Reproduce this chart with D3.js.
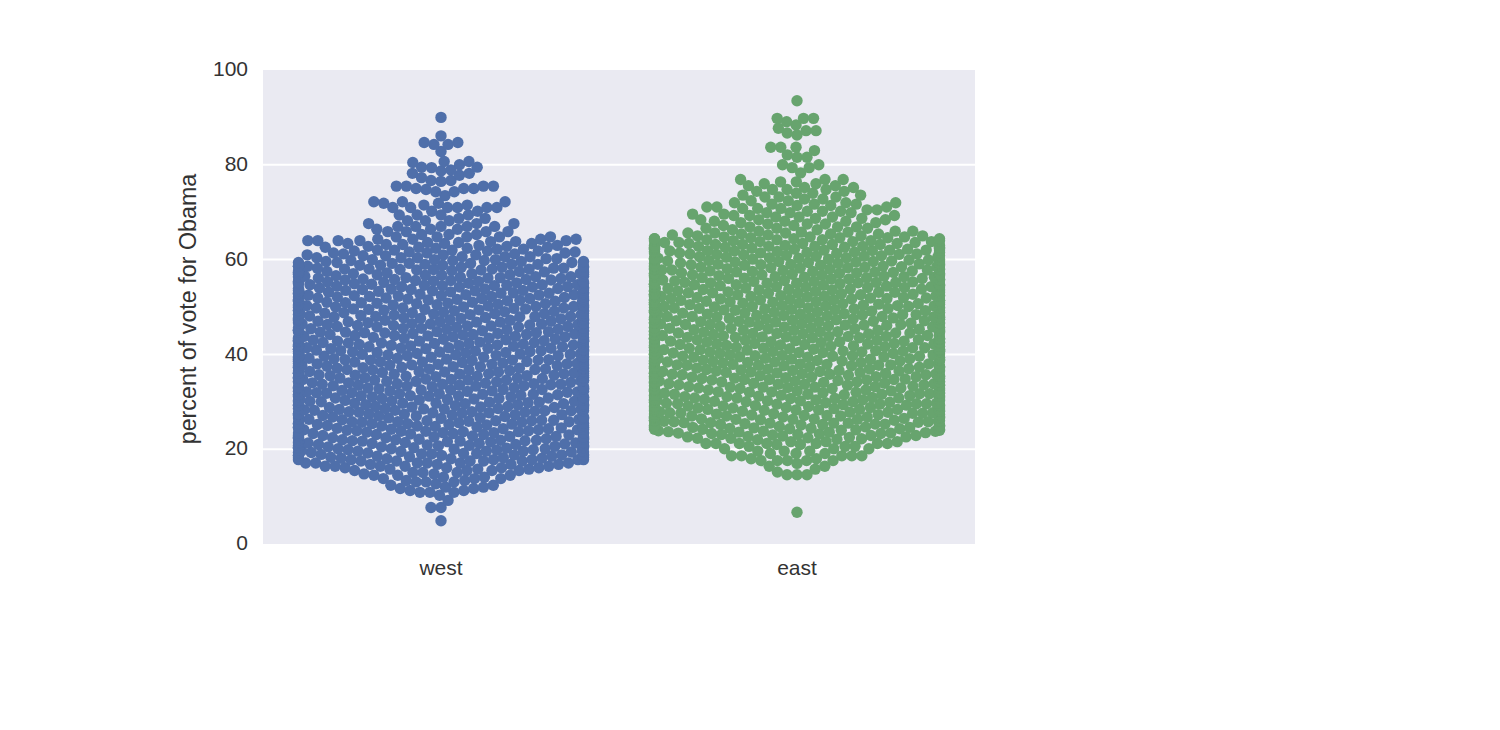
<!DOCTYPE html>
<html><head><meta charset="utf-8">
<script src="https://cdn.jsdelivr.net/npm/d3@7"></script>
<style>html,body{margin:0;padding:0;background:#fff}svg{display:block}
text{font-family:"Liberation Sans",Arial,sans-serif;fill:#333}</style></head>
<body><div id="chart"></div>
<script>
const categories = ["west","east"];
const yTicks = [0,20,40,60,80,100];
const yLabel = "percent of vote for Obama";
const colors = ["#4F6FAA","#67A46E"];

// Each value occurs as many times as the count at the same index.
const westValues = [
4.9,7.7,9.2,10.3,10.9,11.3,11.7,
12.0,12.4,12.7,13.1,13.4,13.8,14.1,14.5,14.8,15.1,15.5,15.8,16.1,16.4,16.8,17.1,17.5,17.8,
18.0,18.1,18.2,18.3,18.4,18.5,18.6,18.7,18.8,18.9,
19.0,19.1,19.2,19.3,19.4,19.5,19.6,19.7,19.8,19.9,
20.0,20.1,20.2,20.3,20.4,20.5,20.6,20.7,20.8,20.9,
21.0,21.1,21.2,21.3,21.4,21.5,21.6,21.7,21.8,21.9,
22.0,22.1,22.2,22.3,22.4,22.5,22.6,22.7,22.8,22.9,
23.0,23.1,23.2,23.3,23.4,23.5,23.6,23.7,23.8,23.9,
24.0,24.1,24.2,24.3,24.4,24.5,24.6,24.7,24.8,24.9,
25.0,25.1,25.2,25.3,25.4,25.5,25.6,25.7,25.8,25.9,
26.0,26.1,26.2,26.3,26.4,26.5,26.6,26.7,26.8,26.9,
27.0,27.1,27.2,27.3,27.4,27.5,27.6,27.7,27.8,27.9,
28.0,28.1,28.2,28.3,28.4,28.5,28.6,28.7,28.8,28.9,
29.0,29.1,29.2,29.3,29.4,29.5,29.6,29.7,29.8,29.9,
30.0,30.1,30.2,30.3,30.4,30.5,30.6,30.7,30.8,30.9,
31.0,31.1,31.2,31.3,31.4,31.5,31.6,31.7,31.8,31.9,
32.0,32.1,32.2,32.3,32.4,32.5,32.6,32.7,32.8,32.9,
33.0,33.1,33.2,33.3,33.4,33.5,33.6,33.7,33.8,33.9,
34.0,34.1,34.2,34.3,34.4,34.5,34.6,34.7,34.8,34.9,
35.0,35.1,35.2,35.3,35.4,35.5,35.6,35.7,35.8,35.9,
36.0,36.1,36.2,36.3,36.4,36.5,36.6,36.7,36.8,36.9,
37.0,37.1,37.2,37.3,37.4,37.5,37.6,37.7,37.8,37.9,
38.0,38.1,38.2,38.3,38.4,38.5,38.6,38.7,38.8,38.9,
39.0,39.1,39.2,39.3,39.4,39.5,39.6,39.7,39.8,39.9,
40.0,40.1,40.2,40.3,40.4,40.5,40.6,40.7,40.8,40.9,
41.0,41.1,41.2,41.3,41.4,41.5,41.6,41.7,41.8,41.9,
42.0,42.1,42.2,42.3,42.4,42.5,42.6,42.7,42.8,42.9,
43.0,43.1,43.2,43.3,43.4,43.5,43.6,43.7,43.8,43.9,
44.0,44.1,44.2,44.3,44.4,44.5,44.6,44.7,44.8,44.9,
45.0,45.1,45.2,45.3,45.4,45.5,45.6,45.7,45.8,45.9,
46.0,46.1,46.2,46.3,46.4,46.5,46.6,46.7,46.8,46.9,
47.0,47.1,47.2,47.3,47.4,47.5,47.6,47.7,47.8,47.9,
48.0,48.1,48.2,48.3,48.4,48.5,48.6,48.7,48.8,48.9,
49.0,49.1,49.2,49.3,49.4,49.5,49.6,49.7,49.8,49.9,
50.0,50.1,50.2,50.3,50.4,50.5,50.6,50.7,50.8,50.9,
51.0,51.1,51.2,51.3,51.4,51.5,51.6,51.7,51.8,51.9,
52.0,52.1,52.2,52.3,52.4,52.5,52.6,52.7,52.8,52.9,
53.0,53.1,53.2,53.3,53.4,53.5,53.6,53.7,53.8,53.9,
54.0,54.1,54.2,54.3,54.4,54.5,54.6,54.7,54.8,54.9,
55.0,55.1,55.2,55.3,55.4,55.5,55.6,55.7,55.8,55.9,
56.0,56.1,56.2,56.3,56.4,56.5,56.6,56.7,56.8,56.9,
57.0,57.1,57.2,57.3,57.4,57.5,57.6,57.7,57.8,57.9,
58.0,58.2,58.4,58.6,58.8,59.0,59.2,59.4,59.6,59.8,
60.0,60.2,60.4,60.6,60.8,61.0,61.2,61.4,61.6,61.8,
62.0,62.2,62.4,62.6,62.8,63.0,63.2,63.4,63.6,63.8,
64.0,64.3,64.8,65.3,65.9,66.4,67.0,67.6,68.2,68.7,69.4,70.2,71.0,71.5,71.9,72.2,
73.5,74.3,74.8,75.0,75.5,76.5,76.7,77.3,77.8,78.2,78.7,78.9,79.4,79.5,80.0,80.5,80.7,
82.8,84.3,84.7,86.1,90.0];
const westCounts = [
1,2,1,1,3,2,2,
2,2,1,3,2,3,2,3,2,3,4,3,4,5,4,6,5,6,
2,2,2,2,1,2,2,2,2,2,
2,2,1,2,2,1,3,2,1,2,
1,3,2,2,1,2,2,1,3,1,
2,1,2,3,2,2,1,2,2,2,
3,2,1,2,2,1,3,2,2,1,
2,2,1,2,3,2,1,2,2,2,
1,3,2,2,1,2,3,2,1,2,
2,1,2,3,2,2,1,2,3,1,
3,2,1,2,2,1,3,2,2,1,
2,2,1,2,3,2,1,2,2,2,
1,3,2,1,2,2,3,1,2,2,
2,1,3,2,2,1,2,3,1,2,
2,2,1,3,2,2,1,2,2,2,
3,1,2,2,1,3,2,2,1,2,
1,2,3,2,1,2,2,3,2,1,
2,3,1,2,2,2,1,3,2,1,
2,1,2,3,1,2,3,2,1,2,
2,3,2,1,2,2,3,1,2,2,
3,2,1,2,3,2,1,2,2,2,
1,2,3,2,2,1,3,2,2,2,
2,2,2,1,3,2,2,1,3,2,
3,1,2,2,2,3,1,2,2,2,
2,3,2,1,2,2,3,1,2,2,
1,2,2,3,2,1,2,3,2,2,
2,2,1,3,2,2,1,2,3,2,
3,2,2,1,2,3,1,2,2,1,
2,1,3,2,2,1,2,2,3,1,
1,3,2,2,1,2,3,1,2,2,
2,2,1,2,3,2,1,2,2,2,
2,1,3,2,1,2,2,3,1,2,
3,2,1,2,2,1,2,3,2,1,
1,2,2,3,1,2,2,1,3,2,
2,2,3,1,2,2,1,2,2,2,
2,1,2,2,3,1,2,2,2,2,
1,3,2,1,2,2,2,1,3,2,
2,2,1,2,2,3,1,2,2,2,
3,1,2,2,1,2,2,3,1,2,
2,2,1,3,2,1,2,2,2,1,
1,2,2,1,3,2,1,2,2,2,
2,1,2,2,1,2,2,1,2,2,
4,3,3,4,3,3,3,3,3,3,
3,2,3,3,2,3,2,3,2,3,
3,2,2,3,2,2,2,3,2,2,
5,4,5,3,4,3,5,3,3,2,4,2,6,2,2,3,
1,2,1,3,4,1,2,1,1,2,1,1,1,2,1,1,2,
1,2,2,1,1];

const eastValues = [
6.7,14.6,15.2,15.8,16.4,17.0,17.6,18.0,18.6,19.1,19.6,20.1,20.6,21.0,21.2,21.6,
22.0,22.1,22.2,22.3,22.4,22.5,22.6,22.7,22.8,22.9,
23.0,23.1,23.2,23.3,23.4,23.5,23.6,23.7,23.8,23.9,
24.0,24.1,24.2,24.3,24.4,24.5,24.6,24.7,24.8,24.9,
25.0,25.1,25.2,25.3,25.4,25.5,25.6,25.7,25.8,25.9,
26.0,26.1,26.2,26.3,26.4,26.5,26.6,26.7,26.8,26.9,
27.0,27.1,27.2,27.3,27.4,27.5,27.6,27.7,27.8,27.9,
28.0,28.1,28.2,28.3,28.4,28.5,28.6,28.7,28.8,28.9,
29.0,29.1,29.2,29.3,29.4,29.5,29.6,29.7,29.8,29.9,
30.0,30.1,30.2,30.3,30.4,30.5,30.6,30.7,30.8,30.9,
31.0,31.1,31.2,31.3,31.4,31.5,31.6,31.7,31.8,31.9,
32.0,32.1,32.2,32.3,32.4,32.5,32.6,32.7,32.8,32.9,
33.0,33.1,33.2,33.3,33.4,33.5,33.6,33.7,33.8,33.9,
34.0,34.1,34.2,34.3,34.4,34.5,34.6,34.7,34.8,34.9,
35.0,35.1,35.2,35.3,35.4,35.5,35.6,35.7,35.8,35.9,
36.0,36.1,36.2,36.3,36.4,36.5,36.6,36.7,36.8,36.9,
37.0,37.1,37.2,37.3,37.4,37.5,37.6,37.7,37.8,37.9,
38.0,38.1,38.2,38.3,38.4,38.5,38.6,38.7,38.8,38.9,
39.0,39.1,39.2,39.3,39.4,39.5,39.6,39.7,39.8,39.9,
40.0,40.1,40.2,40.3,40.4,40.5,40.6,40.7,40.8,40.9,
41.0,41.1,41.2,41.3,41.4,41.5,41.6,41.7,41.8,41.9,
42.0,42.1,42.2,42.3,42.4,42.5,42.6,42.7,42.8,42.9,
43.0,43.1,43.2,43.3,43.4,43.5,43.6,43.7,43.8,43.9,
44.0,44.1,44.2,44.3,44.4,44.5,44.6,44.7,44.8,44.9,
45.0,45.1,45.2,45.3,45.4,45.5,45.6,45.7,45.8,45.9,
46.0,46.1,46.2,46.3,46.4,46.5,46.6,46.7,46.8,46.9,
47.0,47.1,47.2,47.3,47.4,47.5,47.6,47.7,47.8,47.9,
48.0,48.1,48.2,48.3,48.4,48.5,48.6,48.7,48.8,48.9,
49.0,49.1,49.2,49.3,49.4,49.5,49.6,49.7,49.8,49.9,
50.0,50.1,50.2,50.3,50.4,50.5,50.6,50.7,50.8,50.9,
51.0,51.1,51.2,51.3,51.4,51.5,51.6,51.7,51.8,51.9,
52.0,52.1,52.2,52.3,52.4,52.5,52.6,52.7,52.8,52.9,
53.0,53.1,53.2,53.3,53.4,53.5,53.6,53.7,53.8,53.9,
54.0,54.1,54.2,54.3,54.4,54.5,54.6,54.7,54.8,54.9,
55.0,55.1,55.2,55.3,55.4,55.5,55.6,55.7,55.8,55.9,
56.0,56.1,56.2,56.3,56.4,56.5,56.6,56.7,56.8,56.9,
57.0,57.1,57.2,57.3,57.4,57.5,57.6,57.7,57.8,57.9,
58.0,58.1,58.2,58.3,58.4,58.5,58.6,58.7,58.8,58.9,
59.0,59.1,59.2,59.3,59.4,59.5,59.6,59.7,59.8,59.9,
60.0,60.1,60.2,60.3,60.4,60.5,60.6,60.7,60.8,60.9,
61.0,61.1,61.2,61.3,61.4,61.5,61.6,61.7,61.8,61.9,
62.0,62.2,62.4,62.6,62.8,63.0,63.2,63.4,63.6,63.8,
64.0,64.2,64.4,64.6,64.8,65.0,65.2,65.4,65.6,65.8,
66.0,66.3,66.6,66.9,67.2,67.5,67.8,68.1,68.4,68.7,
69.0,69.3,69.6,69.9,70.2,70.5,70.8,71.1,71.4,71.7,
72.0,72.4,72.8,73.2,73.6,74.0,74.4,74.8,75.2,75.6,76.0,76.4,76.9,
78.3,79.4,80.0,81.6,82.1,83.0,83.7,86.3,86.7,87.2,87.7,88.4,89.1,89.8,93.5];
const eastCounts = [
1,3,1,1,2,1,5,2,5,3,3,3,3,2,7,3,
1,1,1,2,1,1,2,1,1,2,
1,2,1,2,2,1,2,1,2,1,
2,1,3,2,2,1,3,1,2,1,
3,1,2,2,1,3,2,1,2,2,
2,2,1,3,2,2,1,2,2,2,
3,2,1,2,2,1,3,2,2,1,
2,2,1,2,3,2,1,2,2,2,
1,3,2,2,1,2,3,2,1,2,
2,1,2,3,2,2,1,2,3,1,
3,2,1,2,2,1,3,2,2,2,
2,2,1,2,3,2,1,2,2,3,
1,3,2,1,2,2,3,2,2,2,
2,1,3,2,2,1,2,3,2,2,
2,2,2,3,2,2,1,2,2,2,
3,1,2,2,2,3,2,2,1,2,
1,2,3,2,1,2,2,3,2,2,
2,3,1,2,2,2,2,3,2,1,
2,1,2,3,2,2,3,2,1,2,
2,3,2,1,2,2,3,2,2,2,
3,2,1,2,3,2,1,2,2,2,
1,2,3,2,2,2,3,2,2,1,
2,2,2,1,3,2,2,2,3,1,
3,1,2,2,2,3,1,2,2,2,
2,3,2,1,2,2,3,2,2,1,
1,2,2,3,2,1,2,3,2,2,
2,2,1,3,2,2,1,2,3,2,
3,2,2,1,2,3,1,2,2,2,
2,1,3,2,2,1,2,2,3,2,
1,3,2,2,1,2,3,2,2,2,
2,2,1,2,3,2,2,2,2,2,
2,1,3,2,2,2,2,3,1,2,
3,2,1,2,2,1,2,3,2,2,
1,2,2,3,1,2,2,2,3,2,
2,2,3,1,2,2,1,2,2,2,
2,1,2,2,3,1,2,2,2,2,
1,3,2,1,2,2,2,1,3,2,
2,2,1,2,2,3,1,2,2,2,
3,1,2,2,1,2,2,3,1,2,
2,2,1,3,2,1,2,2,2,1,
1,2,2,1,3,2,1,2,2,2,
4,3,3,4,4,3,4,3,3,3,
4,3,4,3,3,3,2,3,3,2,
3,2,3,3,2,3,2,3,3,2,
3,3,2,3,3,2,3,3,2,3,
3,2,2,3,2,2,2,3,2,2,2,2,3,
1,2,2,2,1,1,3,1,1,2,1,1,1,3,1];

const W=1500,H=730;
const plot={left:263,right:975,top:70,bottom:544};
const svg=d3.select("#chart").append("svg").attr("width",W).attr("height",H);
const x=d3.scaleBand().domain(categories).range([plot.left,plot.right]);
const y=d3.scaleLinear().domain([0,100]).range([plot.bottom,plot.top]);

svg.append("rect").attr("x",plot.left).attr("y",plot.top)
  .attr("width",plot.right-plot.left).attr("height",plot.bottom-plot.top).attr("fill","#EAEAF2");
svg.append("g").selectAll("line").data(yTicks.filter(t=>t>0&&t<100)).join("line")
  .attr("x1",plot.left).attr("x2",plot.right)
  .attr("y1",d=>y(d)).attr("y2",d=>y(d)).attr("stroke","#fff").attr("stroke-width",2);

const gy=svg.append("g").attr("transform",`translate(${plot.left},-1)`)
  .call(d3.axisLeft(y).tickValues(yTicks).tickSize(0).tickPadding(15));
gy.select(".domain").remove();
gy.selectAll("text").attr("font-size",21).attr("font-family",null).style("fill","#333");
const gx=svg.append("g").attr("transform",`translate(0,${plot.bottom})`)
  .call(d3.axisBottom(x).tickSize(0).tickPadding(16));
gx.select(".domain").remove();
gx.selectAll("text").attr("font-size",21).attr("font-family",null).style("fill","#333");
svg.append("text").attr("transform",`translate(196,309) rotate(-90)`)
  .attr("text-anchor","middle").attr("font-size",23.3).text(yLabel);

function expand(vals,counts){const o=[];vals.forEach((v,i)=>{for(let k=0;k<counts[i];k++)o.push(v);});return o;}
const spacing=10,radius=5.7,halfLimit=142.5;
function swarm(values,cx){
  const placed=[];
  values.slice().sort(d3.ascending).forEach(v=>{
    const py=y(v);
    const near=placed.filter(p=>Math.abs(p.y-py)<spacing);
    const cands=[cx];
    near.forEach(p=>{const dx=Math.sqrt(spacing*spacing-(p.y-py)*(p.y-py));cands.push(p.x-dx,p.x+dx);});
    cands.sort((a,b)=>Math.abs(a-cx)-Math.abs(b-cx));
    let best=cands[cands.length-1];
    for(const c of cands){
      if(near.every(p=>(p.x-c)*(p.x-c)+(p.y-py)*(p.y-py)>=spacing*spacing-1e-6)){best=c;break;}
    }
    placed.push({x:best,y:py,v});
  });
  return placed.map(p=>({x:Math.max(cx-halfLimit,Math.min(cx+halfLimit,p.x)),v:p.v}));
}
[[westValues,westCounts],[eastValues,eastCounts]].forEach(([vals,cnts],i)=>{
  const cx=x(categories[i])+x.bandwidth()/2;
  svg.append("g").selectAll("circle").data(swarm(expand(vals,cnts),cx)).join("circle")
    .attr("cx",d=>d.x).attr("cy",d=>y(d.v)).attr("r",radius).attr("fill",colors[i]);
});
</script></body></html>
